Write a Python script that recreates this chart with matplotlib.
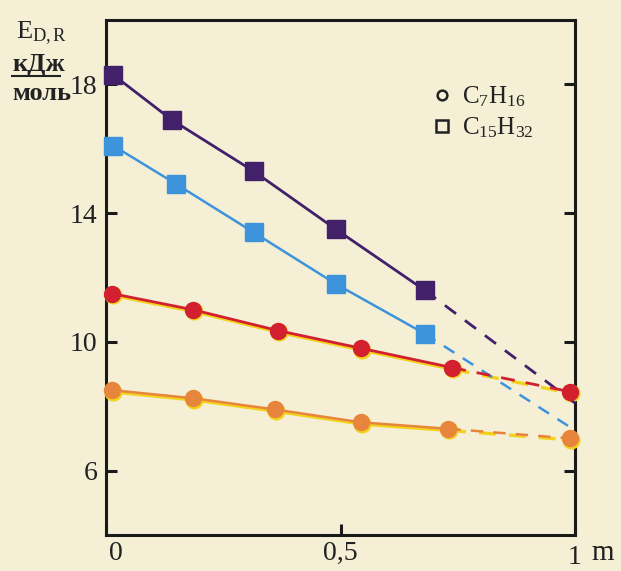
import matplotlib
matplotlib.use("Agg")
import matplotlib.pyplot as plt
import matplotlib.transforms as mtransforms
from matplotlib.lines import Line2D

plt.rcParams['font.family'] = ['Liberation Serif', 'DejaVu Serif']
plt.rcParams['mathtext.fontset'] = 'custom'
plt.rcParams['mathtext.rm'] = 'Liberation Serif'
plt.rcParams['mathtext.it'] = 'Liberation Serif:italic'
plt.rcParams['mathtext.bf'] = 'Liberation Serif:bold'

# ---- data ----
purple_x = [0.015, 0.14, 0.315, 0.49, 0.68]
purple_y = [18.3, 16.9, 15.3, 13.5, 11.6]
purple_ext_x = [0.68, 1.0]
purple_ext_y = [11.6, 8.1]

blue_x = [0.015, 0.15, 0.315, 0.49, 0.68]
blue_y = [16.1, 14.9, 13.4, 11.8, 10.25]
blue_ext_x = [0.68, 0.995]
blue_ext_y = [10.25, 7.3]

red_x = [0.013, 0.185, 0.367, 0.544, 0.738]
red_y = [11.5, 11.0, 10.35, 9.8, 9.2]
red_ext_x = [0.738, 0.99]
red_ext_y = [9.2, 8.45]

orange_x = [0.013, 0.185, 0.36, 0.544, 0.73]
orange_y = [8.5, 8.25, 7.9, 7.5, 7.3]
orange_ext_x = [0.73, 0.99]
orange_ext_y = [7.3, 7.0]

xticks = [0, 0.5, 1]
xtick_labels = ['0', '0,5', '1']
yticks = [6, 10, 14, 18]
ytick_labels = ['6', '10', '14', '18']

BG = '#f4efd5'
PURPLE = '#42206a'
BLUE = '#3d94dc'
RED = '#d2202e'
ORANGE = '#e8853c'
YELLOW = '#f3d21c'

fig = plt.figure(figsize=(6.21, 5.71), dpi=100, facecolor=BG)
ax = fig.add_axes([106/621, 1-535/571, (575-106)/621, (535-20)/571])
ax.set_facecolor(BG)
ax.set_xlim(0, 1)
ax.set_ylim(4, 20)

shift = mtransforms.offset_copy(ax.transData, fig=fig, x=0.8, y=-1.6, units='dots')

# purple
ax.plot(purple_x, purple_y, color=PURPLE, lw=2.0, marker='s', ms=12.5,
        mfc=PURPLE, mec=PURPLE, zorder=5, clip_on=False)
ax.plot(purple_ext_x, purple_ext_y, color=PURPLE, lw=2.0, dashes=(5, 4), zorder=4, clip_on=False)
# blue
ax.plot(blue_x, blue_y, color=BLUE, lw=1.8, marker='s', ms=12.5,
        mfc=BLUE, mec=BLUE, zorder=5, clip_on=False)
ax.plot(blue_ext_x, blue_ext_y, color=BLUE, lw=1.8, dashes=(5, 4), zorder=4, clip_on=False)

# red with yellow misregistration
ax.plot(red_x, red_y, color=YELLOW, lw=2.6, marker='o', ms=12,
        mfc=YELLOW, mec=YELLOW, transform=shift, zorder=3, clip_on=False)
ax.plot(red_x, red_y, color=RED, lw=2.0, marker='o', ms=11.5,
        mfc=RED, mec=RED, zorder=5, clip_on=False)
ax.plot(red_ext_x, red_ext_y, color=YELLOW, lw=2.4, dashes=(5, 4), transform=shift, zorder=3, clip_on=False)
ax.plot(red_ext_x, red_ext_y, color=RED, lw=2.0, dashes=(5, 4), dash_capstyle='butt', zorder=4, clip_on=False)
ax.plot([red_ext_x[-1]], [red_ext_y[-1]], color=YELLOW, marker='o', ms=12, transform=shift, zorder=3, clip_on=False)
ax.plot([red_ext_x[-1]], [red_ext_y[-1]], color=RED, marker='o', ms=11.5, zorder=5, clip_on=False)

# orange with yellow misregistration
ax.plot(orange_x, orange_y, color=YELLOW, lw=2.6, marker='o', ms=12,
        mfc=YELLOW, mec=YELLOW, transform=shift, zorder=3, clip_on=False)
ax.plot(orange_x, orange_y, color=ORANGE, lw=1.8, marker='o', ms=11.5,
        mfc=ORANGE, mec=ORANGE, zorder=5, clip_on=False)
ax.plot(orange_ext_x, orange_ext_y, color=YELLOW, lw=2.4, dashes=(5, 4), transform=shift, zorder=3, clip_on=False)
ax.plot(orange_ext_x, orange_ext_y, color=ORANGE, lw=1.8, dashes=(5, 4), zorder=4, clip_on=False)
ax.plot([orange_ext_x[-1]], [orange_ext_y[-1]], color=YELLOW, marker='o', ms=12, transform=shift, zorder=3, clip_on=False)
ax.plot([orange_ext_x[-1]], [orange_ext_y[-1]], color=ORANGE, marker='o', ms=11.5, zorder=5, clip_on=False)

# axes styling
for s in ax.spines.values():
    s.set_linewidth(2.2)
    s.set_color('#1a1a1a')
ax.set_xticks(xticks)
ax.set_xticklabels(xtick_labels)
ax.set_yticks(yticks)
ax.set_yticklabels(ytick_labels)
ax.tick_params(axis='both', direction='in', length=8, width=2.2, color='#1a1a1a',
               labelsize=20, labelcolor='#222222')
ax.tick_params(axis='y', left=True, right=True, pad=6)
ax.tick_params(axis='x', bottom=True, top=False, pad=4)

# nudge first/last x tick labels like the original print
xl = ax.get_xticklabels()
xl[0].set_transform(xl[0].get_transform() + mtransforms.ScaledTranslation(10/100, 0, fig.dpi_scale_trans))
xl[2].set_transform(xl[2].get_transform() + mtransforms.ScaledTranslation(0, -4/100, fig.dpi_scale_trans))

# legend
handles = [Line2D([], [], ls='none', marker='o', ms=7, mfc='none', mec='#222222', mew=1.8),
           Line2D([], [], ls='none', marker='s', ms=8, mfc='none', mec='#222222', mew=1.8)]
labels = [r'$\mathrm{C_7H_{16}}$', r'$\mathrm{C_{15}H_{32}}$']
leg = ax.legend(handles, labels, loc='upper left', bbox_to_anchor=(422/621, 1-72/571),
                bbox_transform=fig.transFigure, frameon=False, fontsize=18,
                handlelength=0.6, handletextpad=0.5, labelspacing=0.25, borderpad=0)
for t in leg.get_texts():
    t.set_color('#222222')

# y-axis label block
fig.text(16/621, 1-33/571, r'$\mathrm{E_{D,R}}$', fontsize=19, color='#222222',
         ha='left', va='center')
fig.text(12/621, 1-64/571, 'кДж', fontsize=19, fontweight='bold', color='#222222',
         ha='left', va='center')
fig.add_artist(Line2D([12/621, 60/621], [1-76/571, 1-76/571], color='#222222', lw=1.5,
                      transform=fig.transFigure))
fig.text(12/621, 1-93/571, 'моль', fontsize=19, fontweight='bold', color='#222222',
         ha='left', va='center')
fig.text(603/621, 1-553/571, 'm', fontsize=21, color='#222222', ha='center', va='center')

fig.savefig('out.png', dpi=100, facecolor=BG)
